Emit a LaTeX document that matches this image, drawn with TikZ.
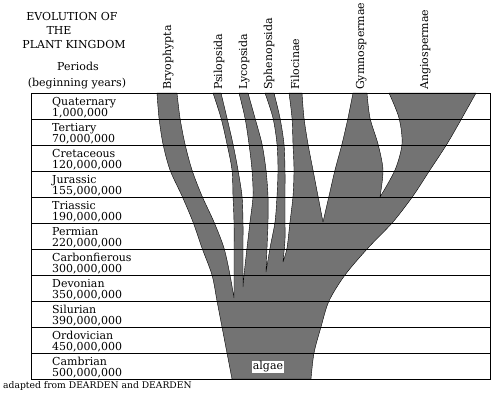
\documentclass[tikz,border=0pt]{standalone}
\usepackage{fontspec}
\setmainfont{DejaVu Serif}
\tikzset{
    band/.style = {fill=black!55, draw=black, line width=0.4pt, line join=round},
    table-line/.style = {draw=black, line width=1pt},
    period-text/.style = {anchor=base west, inner sep=0pt, font=\fontsize{11}{11}\selectfont},
    group-title/.style = {rotate=90, anchor=base west, inner sep=0pt, font=\fontsize{11}{11}\selectfont},
    title-text/.style = {anchor=base, inner sep=0pt, font=\fontsize{11}{11}\selectfont},
    source-text/.style = {anchor=base west, inner sep=0pt, font=\fontsize{9.2}{10}\selectfont},
}

\begin{document}
\begin{tikzpicture}[x=1pt, y=-1pt]
\useasboundingbox (0,0) rectangle (499,397);

\path[band]
  plot[smooth] coordinates {(157,93) (159,118) (163,144) (170,170) (182,196) (193,222) (202,248) (212,275) (217,301) (222,327) (227,353) (232,379)}
  -- (311,379)
  -- plot[smooth] coordinates {(311,379) (314,353) (321,327) (329,301) (345,275) (368,248) (393,222) (413,196) (430,170) (447,144) (462,118) (476,93)}
  -- (389,93)
  -- plot[smooth] coordinates {(389,93) (399,118) (402,144) (395,170) (380,197)}
  -- plot[smooth] coordinates {(380,197) (383,170) (378,144) (370,118) (367,93)}
  -- (353,93)
  -- plot[smooth] coordinates {(353,93) (348,118) (342,144) (335,170) (329,196) (323,222)}
  -- plot[smooth] coordinates {(323,222) (318,196) (313,170) (308,144) (304,118) (302,93)}
  -- (289,93)
  -- plot[smooth] coordinates {(289,93) (292,118) (293,144) (294,170) (293,196) (290,222) (287,248) (283,262)}
  -- plot[smooth] coordinates {(283,262) (285,240) (285,222) (285,196) (285,170) (284,144) (280,118) (274,93)}
  -- (265,93)
  -- plot[smooth] coordinates {(265,93) (273,118) (277,144) (278,170) (277,196) (275,222) (270,248) (266,272)}
  -- plot[smooth] coordinates {(266,272) (267,248) (268,222) (268,196) (266,170) (262,144) (255,118) (248,93)}
  -- (239,93)
  -- plot[smooth] coordinates {(239,93) (245,118) (249,144) (252,170) (253,196) (250,222) (247,248) (244,275) (243,287)}
  -- plot[smooth] coordinates {(243,287) (243,248) (243,222) (242,196) (238,170) (233,144) (227,118) (221,93)}
  -- (213,93)
  -- plot[smooth] coordinates {(213,93) (221,118) (227,144) (232,170) (233,196) (234,222) (234,260) (234,298)}
  -- plot[smooth] coordinates {(234,298) (230,275) (224,248) (214,222) (202,196) (192,170) (185,144) (180,118) (177,93)}
  -- cycle;

\draw[table-line] (31,93) rectangle (490,379);
\foreach \k in {1,...,10}
  \draw[table-line] (31,{93+26*\k}) -- (490,{93+26*\k});

\foreach \name/\year [count=\i from 0] in {Quaternary/{1,000,000}, Tertiary/{70,000,000},
    Cretaceous/{120,000,000}, Jurassic/{155,000,000}, Triassic/{190,000,000},
    Permian/{220,000,000}, Carbonfierous/{300,000,000}, Devonian/{350,000,000},
    Silurian/{390,000,000}, Ordovician/{450,000,000}, Cambrian/{500,000,000}}{
  \node[period-text] (period-\i) at (52,{93+26*\i+12}) {\name};
  \node[period-text] (year-\i) at (52,{93+26*\i+23.5}) {\year};
}

\node[title-text] (title-1) at (72,20) {EVOLUTION OF};
\node[title-text] (title-2) at (59,34) {THE};
\node[title-text] (title-3) at (74,48) {PLANT KINGDOM};
\node[title-text] (periods) at (78,70) {Periods};
\node[title-text] (begin-years) at (77,86) {(beginning years)};

\foreach \x/\group in {171/Bryophypta, 222/Psilopsida, 247/Lycopsida, 272/Sphenopsida,
    299/Filocinae, 364/Gymnospermae, 428/Angiospermae}
  \node[group-title] (group-\x) at (\x,90) {\group};

\node[fill=white, inner sep=1pt, font=\fontsize{11}{11}\selectfont] (algae) at (268,367) {algae};
\node[source-text] (source) at (3,388) {adapted from DEARDEN and DEARDEN};
\end{tikzpicture}
\end{document}
